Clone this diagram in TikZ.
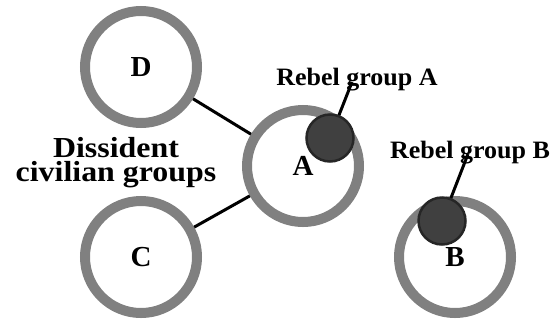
\documentclass[tikz,border=0pt]{standalone}
\usepackage{fontspec}
\setmainfont{Liberation Serif}
\usetikzlibrary{positioning}
\definecolor{ringgray}{RGB}{128,128,128}
\definecolor{rebelfill}{RGB}{64,64,64}
\definecolor{rebeldraw}{RGB}{38,38,38}

\begin{document}
\begin{tikzpicture}[x=1pt, y=-1pt, semithick,
            ring/.style ={circle, draw=ringgray, line width=10pt, minimum size=112pt, inner sep=0pt,
            font=\fontsize{29}{29}\selectfont\bfseries},
            rebel/.style ={circle, fill=rebelfill, draw=rebeldraw, line width=2.5pt, minimum size=47pt, inner sep=0pt},
            tie/.style ={draw=black, line width=3pt},
            tag/.style ={anchor=base, inner sep=0pt, xscale=1.04, transform shape,
            font=\fontsize{25}{25}\selectfont\bfseries}]

        \useasboundingbox (0,0) rectangle (551,322);

        %\node [estilo] (nombre) at (x,y) {};

        \node[ring] (D) at (141, 67) {D};
        \node[ring] (C) at (141, 257) {C};
        \node[ring] (A) at (303, 166) {A};
        \node[ring] (B) at (455, 257) {B};

        \path (D) edge [tie] (A);
        \path (C) edge [tie] (A);

        \node[tag] (tagA) at (357, 85) {Rebel group A};
        \node[tag] (tagB) at (470, 158) {Rebel group B};
        \coordinate (tipA) at (352, 82);
        \coordinate (tipB) at (468, 154);

        \path (tipA) edge [tie] (330, 138);
        \path (tipB) edge [tie] (442, 221);

        \node[rebel] (rebelA) at (330, 138) {};
        \node[rebel] (rebelB) at (442, 221) {};

        \node[align=center, inner sep=0pt, xscale=1.1, transform shape,
            font=\fontsize{29}{24}\selectfont\bfseries]
            (dissident) at (116, 163) {Dissident\\civilian groups};

    \end{tikzpicture}
\end{document}
